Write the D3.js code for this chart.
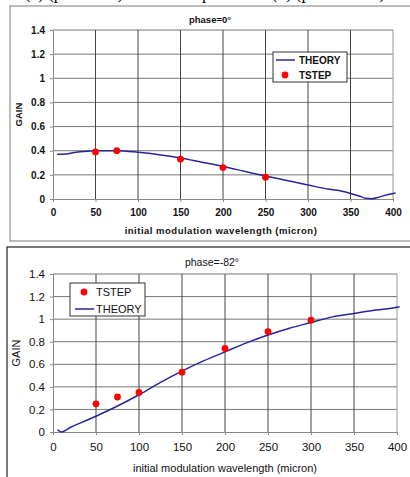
<!DOCTYPE html>
<html>
<head>
<meta charset="utf-8">
<script src="https://cdn.jsdelivr.net/npm/d3@7"></script>
<style>
  body { margin: 0; background: #fff; }
  svg { display: block; font-family: "Liberation Sans", Arial, sans-serif; }
</style>
</head>
<body>
<svg id="chart" width="410" height="477"></svg>
<script>
"use strict";

// общие оси
const xTicks = [0, 50, 100, 150, 200, 250, 300, 350, 400];
const yTicks = [0, 0.2, 0.4, 0.6, 0.8, 1, 1.2, 1.4];

// phase = 0
const theory0X = [5, 15, 25, 35, 50, 75, 100, 125, 150, 175, 200, 225, 250, 275, 300, 325, 340, 350, 360, 368, 375, 382, 390, 396, 403];
const theory0Y = [0.37, 0.372, 0.385, 0.393, 0.40, 0.40, 0.387, 0.367, 0.34, 0.305, 0.27, 0.23, 0.19, 0.153, 0.116, 0.08, 0.064, 0.046, 0.025, 0.006, 0.003, 0.012, 0.03, 0.04, 0.05];
const tstep0X = [50, 75, 150, 200, 250];
const tstep0Y = [0.39, 0.40, 0.33, 0.26, 0.18];

// phase = -82
const theory82X = [5, 10, 20, 35, 50, 75, 100, 125, 150, 175, 200, 225, 250, 275, 300, 325, 350, 375, 400, 403];
const theory82Y = [0.02, 0.0, 0.04, 0.09, 0.14, 0.23, 0.33, 0.44, 0.54, 0.63, 0.71, 0.79, 0.86, 0.92, 0.97, 1.02, 1.05, 1.08, 1.105, 1.11];
const tstep82X = [50, 75, 100, 150, 200, 250, 300];
const tstep82Y = [0.25, 0.31, 0.35, 0.53, 0.74, 0.89, 0.99];

const svg = d3.select("#chart");
const lineColor = "#26269a";
const dotColor = "#ff0000";

// обрезанная подпись сверху (строка документа)
svg.append("text")
    .attr("x", 205).attr("y", -1)
    .attr("text-anchor", "middle")
    .style("font-family", "'Liberation Serif', serif")
    .style("font-size", "17px")
    .text("(a) (phase=0°) and the amplitude of (b) (phase=-82°)");

function drawPanel(cfg) {
    /** Рисует одну панель графика */
    const g = svg.append("g");

    // рамка панели
    g.append("rect")
        .attr("x", cfg.box[0]).attr("y", cfg.box[1])
        .attr("width", cfg.box[2]).attr("height", cfg.box[3])
        .attr("fill", "#fff")
        .attr("stroke", cfg.boxColor)
        .attr("stroke-width", 1.3);

    const x = d3.scaleLinear().domain([0, 400]).range([cfg.left, cfg.right]);
    const y = d3.scaleLinear().domain([0, 1.4]).range([cfg.bottom, cfg.top]);

    // сетка
    g.append("g").selectAll("line").data(yTicks.slice(1)).join("line")
        .attr("x1", cfg.left).attr("x2", cfg.right)
        .attr("y1", d => y(d)).attr("y2", d => y(d))
        .attr("stroke", "#777").attr("stroke-width", 1);
    g.append("g").selectAll("line").data(xTicks.slice(1)).join("line")
        .attr("y1", cfg.top).attr("y2", cfg.bottom)
        .attr("x1", d => x(d)).attr("x2", d => x(d))
        .attr("stroke", d => d === 400 ? "#999" : "#444").attr("stroke-width", 1);

    // оси
    const xAxis = g.append("g")
        .attr("transform", `translate(0,${cfg.bottom})`)
        .call(d3.axisBottom(x).tickValues(xTicks).tickSize(3).tickPadding(cfg.xPad));
    const yAxis = g.append("g")
        .attr("transform", `translate(${cfg.left},0)`)
        .call(d3.axisLeft(y).tickValues(yTicks).tickSize(3).tickPadding(5).tickFormat(d3.format("")));
    [xAxis, yAxis].forEach(a => {
        a.select(".domain").attr("stroke", "#888");
        a.selectAll(".tick line").attr("stroke", "#888");
        a.selectAll("text")
            .attr("fill", "#111")
            .style("font-size", cfg.tickSize)
            .style("font-weight", cfg.weight);
    });

    // линия теории
    const line = d3.line().x(d => x(d[0])).y(d => y(d[1])).curve(d3.curveMonotoneX);
    g.append("path")
        .datum(d3.zip(cfg.theoryX, cfg.theoryY))
        .attr("d", line)
        .attr("fill", "none")
        .attr("stroke", lineColor)
        .attr("stroke-width", 1.5);

    // точки TSTEP
    g.append("g").selectAll("circle").data(d3.zip(cfg.tstepX, cfg.tstepY)).join("circle")
        .attr("cx", d => x(d[0])).attr("cy", d => y(d[1]))
        .attr("r", 3.4).attr("fill", dotColor);

    // заголовок и подписи осей
    g.append("text")
        .attr("x", cfg.titleX).attr("y", cfg.titleY)
        .attr("text-anchor", "middle")
        .style("font-size", cfg.titleSize).style("font-weight", cfg.weight)
        .attr("fill", "#111")
        .text(cfg.title);
    g.append("text")
        .attr("x", (cfg.left + cfg.right) / 2 + cfg.xTitleShift).attr("y", cfg.xTitleY)
        .attr("text-anchor", "middle")
        .style("font-size", cfg.xTitleSize).style("font-weight", cfg.weight)
        .style("letter-spacing", cfg.weight === "bold" ? "0.5px" : "0px")
        .attr("fill", "#111")
        .text("initial modulation wavelength (micron)");
    g.append("text")
        .attr("transform", `translate(${cfg.gainX},${(cfg.top + cfg.bottom) / 2}) rotate(-90)`)
        .attr("text-anchor", "middle")
        .style("font-size", cfg.xTitleSize).style("font-weight", cfg.weight)
        .attr("fill", "#111")
        .text("GAIN");

    // легенда
    const L = cfg.legend;
    const lg = g.append("g").attr("transform", `translate(${L.x},${L.y})`);
    lg.append("rect")
        .attr("width", L.w).attr("height", L.h)
        .attr("fill", "#fff").attr("stroke", "#333").attr("stroke-width", 1);
    L.items.forEach((it, i) => {
        const cy = L.rowY[i];
        if (it === "THEORY") {
            lg.append("line")
                .attr("x1", L.markX - 9).attr("x2", L.markX + 10)
                .attr("y1", cy).attr("y2", cy)
                .attr("stroke", lineColor).attr("stroke-width", 1.5);
        } else {
            lg.append("circle")
                .attr("cx", L.markX).attr("cy", cy).attr("r", 3.4).attr("fill", dotColor);
        }
        lg.append("text")
            .attr("x", L.textX).attr("y", cy + 4)
            .style("font-size", cfg.legendSize).style("font-weight", cfg.weight)
            .attr("fill", "#111")
            .text(it);
    });
}

drawPanel({
    box: [10, 6, 420, 235], boxColor: "#999",
    left: 53, right: 393, top: 30, bottom: 199,
    theoryX: theory0X, theoryY: theory0Y, tstepX: tstep0X, tstepY: tstep0Y,
    title: "phase=0°", titleX: 210, titleY: 23, titleSize: "9.5px",
    tickSize: "10px", xTitleSize: "9.5px", weight: "bold", xPad: 7, xTitleY: 234, xTitleShift: -2, gainX: 22,
    legendSize: "10px",
    legend: { x: 273, y: 52, w: 74, h: 30, items: ["THEORY", "TSTEP"], rowY: [8, 23], markX: 12, textX: 26 }
});

drawPanel({
    box: [7, 247, 420, 240], boxColor: "#333",
    left: 53, right: 397, top: 274, bottom: 432,
    theoryX: theory82X, theoryY: theory82Y, tstepX: tstep82X, tstepY: tstep82Y,
    title: "phase=-82°", titleX: 212, titleY: 266, titleSize: "10.5px",
    tickSize: "11.5px", xTitleSize: "11px", weight: "normal", xPad: 8, xTitleY: 472, xTitleShift: 0, gainX: 20,
    legendSize: "11px",
    legend: { x: 70, y: 283, w: 75, h: 33, items: ["TSTEP", "THEORY"], rowY: [9, 26], markX: 14, textX: 26 }
});
</script>
</body>
</html>
